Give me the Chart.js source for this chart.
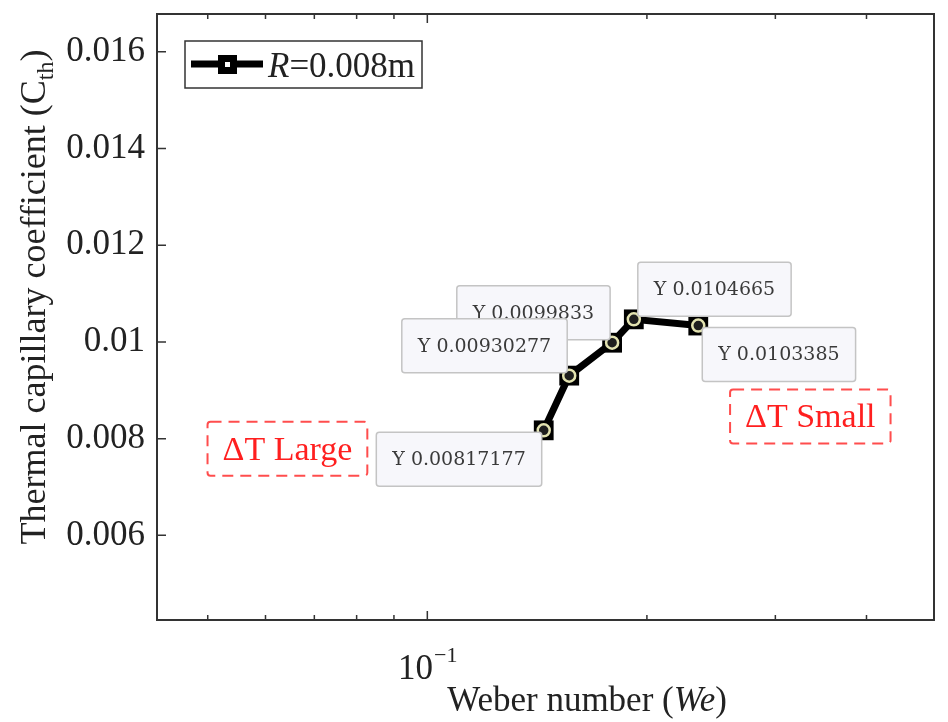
<!DOCTYPE html>
<html>
<head>
<meta charset="utf-8">
<script src="https://cdn.jsdelivr.net/npm/chart.js@4/dist/chart.umd.min.js"></script>
<style>
  body { margin: 0; background: #fff; }
</style>
</head>
<body>
<canvas id="weberChart" width="948" height="722"></canvas>
<script>
// values
const weberNumbers = [0.1444, 0.1565, 0.1792, 0.1919, 0.2352];
const capillaryCoeff = [0.00817177, 0.00930277, 0.0099833, 0.0104665, 0.0103385];
const tipLabels = ['Y 0.00817177', 'Y 0.00930277', 'Y 0.0099833', 'Y 0.0104665', 'Y 0.0103385'];
const yTicks = [0.006, 0.008, 0.01, 0.012, 0.014, 0.016];
const xMajorTicks = [0.1];
const xMinorTicks = [0.05, 0.06, 0.07, 0.08, 0.09, 0.2, 0.3, 0.4];
const seriesValue = '=0.008m';
const deltaLabels = ['\u0394T Large', '\u0394T Small'];
const deltaX = [0.0643, 0.335];
const deltaY = [0.00779, 0.00846];

const SERIF = '"Liberation Serif", "Times New Roman", serif';
const TIP_FONT = '19px "DejaVu Serif", serif';

// where each datatip sits relative to its point, and draw order
const tipSide = ['lb', 'la', 'la', 'ra', 'rb'];
const tipOrder = [2, 1, 0, 3, 4];

function drawTip(ctx, px, py, text, side) {
    ctx.font = TIP_FONT;
    const w = ctx.measureText(text).width + 32;
    const h = 54;
    let x = side[0] === 'l' ? px - 2 - w : px + 4;
    let y = side[1] === 'a' ? py - 3 - h : py + 2;
    ctx.save();
    ctx.fillStyle = '#f7f7fb';
    ctx.strokeStyle = '#c4c4c4';
    ctx.lineWidth = 1.5;
    ctx.beginPath();
    ctx.roundRect(x, y, w, h, 3);
    ctx.fill();
    ctx.stroke();
    ctx.fillStyle = '#3a3a3a';
    ctx.textAlign = 'center';
    ctx.textBaseline = 'middle';
    ctx.fillText(text, x + w / 2, y + h / 2 + 1);
    ctx.restore();
}

const figurePlugin = {
    id: 'figure',
    afterDatasetsDraw(chart) {
        const ctx = chart.ctx;
        const xs = chart.scales.x, ys = chart.scales.y;
        tipOrder.forEach(i => {
            drawTip(ctx, xs.getPixelForValue(weberNumbers[i]), ys.getPixelForValue(capillaryCoeff[i]), tipLabels[i], tipSide[i]);
        });

        // dashed red notes
        deltaLabels.forEach((label, i) => {
            const cx = xs.getPixelForValue(deltaX[i]);
            const cy = ys.getPixelForValue(deltaY[i]);
            ctx.save();
            ctx.font = '34px ' + SERIF;
            const w = ctx.measureText(label).width + 30;
            const h = 54;
            ctx.setLineDash([11, 7]);
            ctx.strokeStyle = '#ff4d4d';
            ctx.lineWidth = 2;
            ctx.beginPath();
            ctx.roundRect(cx - w / 2, cy - h / 2, w, h, 3);
            ctx.stroke();
            ctx.fillStyle = '#ff1f1f';
            ctx.textAlign = 'center';
            ctx.textBaseline = 'middle';
            ctx.fillText(label, cx, cy + 2);
            ctx.restore();
        });
    },
    afterDraw(chart) {
        const ctx = chart.ctx;
        const a = chart.chartArea;
        const xs = chart.scales.x, ys = chart.scales.y;
        ctx.save();

        // frame
        ctx.strokeStyle = '#333';
        ctx.lineWidth = 2;
        ctx.strokeRect(a.left, a.top, a.right - a.left, a.bottom - a.top);

        // inward ticks
        ctx.lineWidth = 1.5;
        ctx.beginPath();
        xMinorTicks.forEach(v => {
            const p = xs.getPixelForValue(v);
            ctx.moveTo(p, a.bottom); ctx.lineTo(p, a.bottom - 5);
            ctx.moveTo(p, a.top); ctx.lineTo(p, a.top + 5);
        });
        xMajorTicks.forEach(v => {
            const p = xs.getPixelForValue(v);
            ctx.moveTo(p, a.bottom); ctx.lineTo(p, a.bottom - 9);
            ctx.moveTo(p, a.top); ctx.lineTo(p, a.top + 9);
        });
        yTicks.forEach(v => {
            const p = ys.getPixelForValue(v);
            ctx.moveTo(a.left, p); ctx.lineTo(a.left + 9, p);
        });
        ctx.stroke();

        // 10^-1 tick label
        ctx.fillStyle = '#222';
        ctx.textBaseline = 'alphabetic';
        ctx.textAlign = 'left';
        xMajorTicks.forEach(v => {
            const p = xs.getPixelForValue(v);
            const exp = String(Math.round(Math.log10(v))).replace('-', '\u2212');
            ctx.font = '35px ' + SERIF;
            const wb = ctx.measureText('10').width;
            ctx.font = '22px ' + SERIF;
            const we = ctx.measureText(exp).width;
            const x0 = p - (wb + we) / 2;
            ctx.font = '35px ' + SERIF;
            ctx.fillText('10', x0, a.bottom + 59);
            ctx.font = '22px ' + SERIF;
            ctx.fillText(exp, x0 + wb + 1, a.bottom + 42);
        });

        // x title
        const parts = [['Weber number (', ''], ['We', 'italic '], [')', '']];
        let total = 0;
        parts.forEach(pt => { ctx.font = pt[1] + '35px ' + SERIF; total += ctx.measureText(pt[0]).width; });
        let x = 587 - total / 2;
        parts.forEach(pt => {
            ctx.font = pt[1] + '35px ' + SERIF;
            ctx.fillText(pt[0], x, 711);
            x += ctx.measureText(pt[0]).width;
        });

        // y title, rotated
        ctx.save();
        ctx.translate(45, 297);
        ctx.rotate(-Math.PI / 2);
        ctx.font = '36px ' + SERIF;
        const main = 'Thermal capillary coefficient (C';
        const wm = ctx.measureText(main).width;
        ctx.font = '24px ' + SERIF;
        const ws = ctx.measureText('th').width;
        ctx.font = '36px ' + SERIF;
        const wc = ctx.measureText(')').width;
        let t = -(wm + ws + wc) / 2;
        ctx.fillText(main, t, 0);
        ctx.font = '24px ' + SERIF;
        ctx.fillText('th', t + wm, 8);
        ctx.font = '36px ' + SERIF;
        ctx.fillText(')', t + wm + ws, 0);
        ctx.restore();

        // legend
        const lx = a.left + 28, ly = a.top + 27;
        ctx.fillStyle = '#fff';
        ctx.fillRect(lx, ly, 237, 47);
        ctx.strokeStyle = '#333';
        ctx.lineWidth = 1.5;
        ctx.strokeRect(lx, ly, 237, 47);
        ctx.strokeStyle = '#000';
        ctx.lineWidth = 7;
        ctx.beginPath();
        ctx.moveTo(lx + 6, ly + 23); ctx.lineTo(lx + 78, ly + 23);
        ctx.stroke();
        ctx.fillStyle = '#000';
        ctx.fillRect(lx + 33, ly + 14, 19, 19);
        ctx.fillStyle = '#fff';
        ctx.fillRect(lx + 40, ly + 21, 5, 5);
        ctx.fillStyle = '#222';
        ctx.font = 'italic 35px ' + SERIF;
        ctx.fillText('R', lx + 83, ly + 36);
        const wr = ctx.measureText('R').width;
        ctx.font = '35px ' + SERIF;
        ctx.fillText(seriesValue, lx + 83 + wr, ly + 36);

        ctx.restore();
    }
};

const points = weberNumbers.map((w, i) => ({ x: w, y: capillaryCoeff[i] }));

new Chart(document.getElementById('weberChart'), {
    type: 'line',
    data: {
        datasets: [{
            label: 'R=0.008m',
            data: points,
            order: 2,
            borderColor: '#000',
            borderWidth: 7,
            tension: 0,
            pointStyle: 'rect',
            pointRadius: 14,
            pointBackgroundColor: '#000',
            pointBorderWidth: 0
        }, {
            label: 'datatips',
            data: points,
            order: 1,
            showLine: false,
            pointStyle: 'circle',
            pointRadius: 6,
            pointBorderWidth: 2.5,
            pointBorderColor: '#e2e2b0',
            pointBackgroundColor: '#1e1e1e'
        }]
    },
    options: {
        responsive: false,
        animation: false,
        devicePixelRatio: 1,
        layout: { padding: { top: 12, right: 10, left: 0, bottom: 0 } },
        plugins: { legend: { display: false }, tooltip: { enabled: false } },
        scales: {
            x: {
                type: 'logarithmic',
                min: 0.0426,
                max: 0.495,
                grid: { display: false, drawTicks: false },
                border: { display: false },
                ticks: { display: false },
                afterFit(scale) {
                    scale.height = 102;
                    scale.paddingLeft = 0;
                    scale.paddingRight = 0;
                }
            },
            y: {
                type: 'linear',
                min: 0.00425,
                max: 0.01678,
                grid: { display: false, drawTicks: false },
                border: { display: false },
                afterBuildTicks(scale) { scale.ticks = yTicks.map(v => ({ value: v })); },
                ticks: {
                    padding: 12,
                    color: '#222',
                    font: { family: SERIF, size: 35 },
                    callback: v => String(v)
                },
                afterFit(scale) {
                    scale.width = 157;
                    scale.paddingTop = 0;
                    scale.paddingBottom = 0;
                }
            }
        }
    },
    plugins: [figurePlugin]
});
</script>
</body>
</html>
